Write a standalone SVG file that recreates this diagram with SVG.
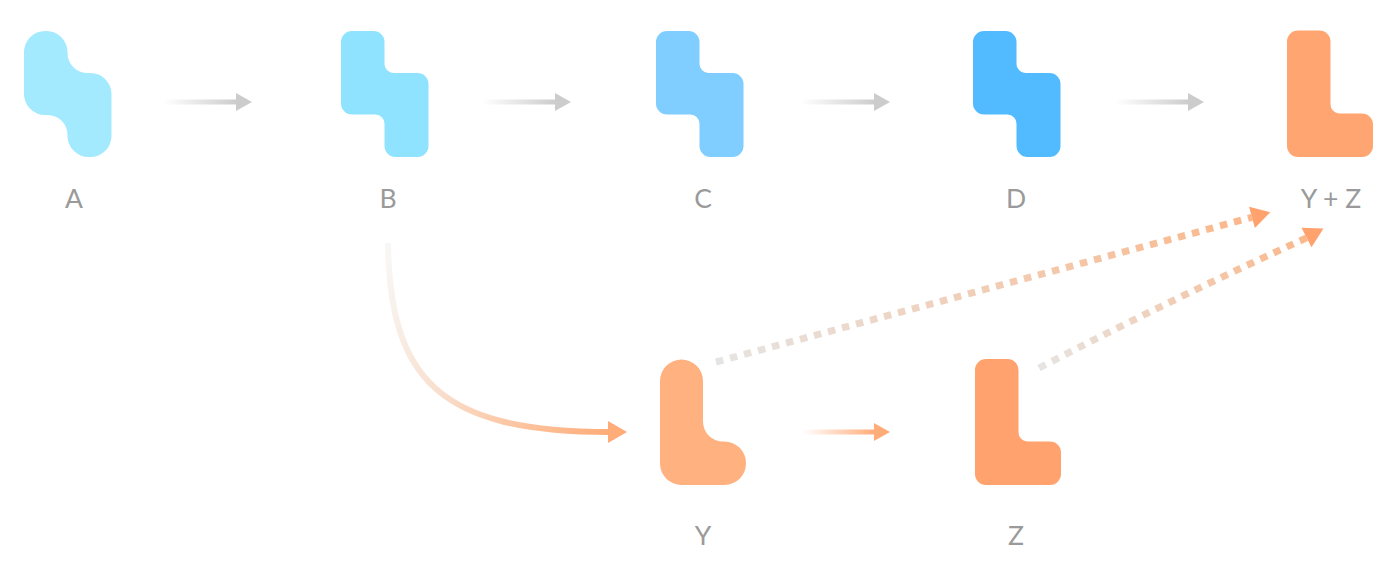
<svg xmlns="http://www.w3.org/2000/svg" width="1400" height="564" viewBox="0 0 1400 564">
<style>
.lbl{font-family:"Lato","Liberation Sans",sans-serif;font-size:26.5px;fill:#9a9a9a;text-anchor:middle}
.gshaft{fill:url(#gGrey)}
.ghead{fill:#cccccc}
.oshaft{fill:url(#gOrange)}
.ohead{fill:#ffac78}
.dhead{fill:#ffa26e}
.dots{fill:none;stroke-width:7;stroke-dasharray:7.5 7}
</style>
<defs>
<linearGradient id="gGrey" x1="0" y1="0" x2="1" y2="0">
<stop offset="0" stop-color="#cccccc" stop-opacity="0"/>
<stop offset="1" stop-color="#cccccc"/>
</linearGradient>
<linearGradient id="gOrange" x1="0" y1="0" x2="1" y2="0">
<stop offset="0" stop-color="#ffac78" stop-opacity="0"/>
<stop offset="1" stop-color="#ffac78"/>
</linearGradient>
<linearGradient id="gCurve" gradientUnits="userSpaceOnUse" x1="388" y1="243" x2="610" y2="432">
<stop offset="0" stop-color="#f4f2f0" stop-opacity="0.6"/>
<stop offset="0.5" stop-color="#f9dcc8"/>
<stop offset="1" stop-color="#ffac78"/>
</linearGradient>
<linearGradient id="gDot1" gradientUnits="userSpaceOnUse" x1="716" y1="362" x2="1253" y2="217">
<stop offset="0" stop-color="#e6e4e2"/>
<stop offset="1" stop-color="#fbb78a"/>
</linearGradient>
<linearGradient id="gDot2" gradientUnits="userSpaceOnUse" x1="1039" y1="368" x2="1307" y2="237">
<stop offset="0" stop-color="#e6e4e2"/>
<stop offset="1" stop-color="#fbb78a"/>
</linearGradient>
</defs>

<g id="connectors">
<rect class="gshaft" x="163" y="99.5" width="74" height="5"/>
<polygon class="ghead" points="236,93 252,102 236,111"/>
<rect class="gshaft" x="482" y="99.5" width="74" height="5"/>
<polygon class="ghead" points="555,93 571,102 555,111"/>
<rect class="gshaft" x="801" y="99.5" width="74" height="5"/>
<polygon class="ghead" points="874,93 890,102 874,111"/>
<rect class="gshaft" x="1115" y="99.5" width="74" height="5"/>
<polygon class="ghead" points="1188,93 1204,102 1188,111"/>
<rect class="oshaft" x="803" y="429.5" width="72" height="5"/>
<polygon class="ohead" points="874,423 890,432 874,441"/>
<path d="M388,243 C390,380 440,432 610,432" fill="none" stroke="url(#gCurve)" stroke-width="6"/>
<polygon class="ohead" points="608,421 627,432 608,443"/>
<path class="dots" stroke="url(#gDot1)" d="M716,362 L1252,217.3"/>
<polygon class="dhead" points="1249.1,206.7 1270.3,212.3 1254.9,227.9"/>
<path class="dots" stroke="url(#gDot2)" d="M1039,368 Q1180,295 1307.5,237.5"/>
<polygon class="dhead" points="1301.5,227.8 1323.5,228.5 1311.5,247.3"/>
</g>

<g id="A">
<path fill="#a3eaff" d="M45,31 H46.5 A21,21 0 0 1 67.5,52 V53 A20,20 0 0 0 87.5,73 H90.5 A21,21 0 0 1 111.5,94 V136 A21,21 0 0 1 90.5,157 H88.5 A21,21 0 0 1 67.5,136 V135 A20,20 0 0 0 47.5,115 H45 A21,21 0 0 1 24,94 V52 A21,21 0 0 1 45,31 Z"/>
<text class="lbl" x="74" y="208">A</text>
</g>
<g id="B">
<path fill="#8fe3ff" d="M352,31 H373.5 A11,11 0 0 1 384.5,42 V64 A9,9 0 0 0 393.5,73 H417.5 A11,11 0 0 1 428.5,84 V146 A11,11 0 0 1 417.5,157 H395.5 A11,11 0 0 1 384.5,146 V123.5 A9,9 0 0 0 375.5,114.5 H352 A11,11 0 0 1 341,103.5 V42 A11,11 0 0 1 352,31 Z"/>
<text class="lbl" x="388" y="208">B</text>
</g>
<g id="C">
<path fill="#80cdff" d="M667,31 H688.5 A11,11 0 0 1 699.5,42 V64 A9,9 0 0 0 708.5,73 H732.5 A11,11 0 0 1 743.5,84 V146 A11,11 0 0 1 732.5,157 H710.5 A11,11 0 0 1 699.5,146 V123.5 A9,9 0 0 0 690.5,114.5 H667 A11,11 0 0 1 656,103.5 V42 A11,11 0 0 1 667,31 Z"/>
<text class="lbl" x="703" y="208">C</text>
</g>
<g id="D">
<path fill="#52bbff" d="M984,31 H1005.5 A11,11 0 0 1 1016.5,42 V64 A9,9 0 0 0 1025.5,73 H1049.5 A11,11 0 0 1 1060.5,84 V146 A11,11 0 0 1 1049.5,157 H1027.5 A11,11 0 0 1 1016.5,146 V123.5 A9,9 0 0 0 1007.5,114.5 H984 A11,11 0 0 1 973,103.5 V42 A11,11 0 0 1 984,31 Z"/>
<text class="lbl" x="1016" y="208">D</text>
</g>
<g id="YZ">
<path fill="#ffa571" d="M1298,30.5 H1319.5 A11,11 0 0 1 1330.5,41.5 V104.5 A9,9 0 0 0 1339.5,113.5 H1362 A11,11 0 0 1 1373,124.5 V146 A11,11 0 0 1 1362,157 H1298 A11,11 0 0 1 1287,146 V41.5 A11,11 0 0 1 1298,30.5 Z"/>
<text class="lbl" x="1331" y="208">Y + Z</text>
</g>
<g id="Y">
<path fill="#ffb27f" d="M681.5,359.5 A21.5,21.5 0 0 1 703,381 V421.5 A20,20 0 0 0 723,441.5 H724.5 A21.5,21.5 0 0 1 746,463 V463.5 A21.5,21.5 0 0 1 724.5,485 H681.5 A21.5,21.5 0 0 1 660,463.5 V381 A21.5,21.5 0 0 1 681.5,359.5 Z"/>
<text class="lbl" x="703" y="545">Y</text>
</g>
<g id="Z">
<path fill="#ffa26e" d="M986,359 H1007.5 A11,11 0 0 1 1018.5,370 V432.5 A9,9 0 0 0 1027.5,441.5 H1050 A11,11 0 0 1 1061,452.5 V474 A11,11 0 0 1 1050,485 H986 A11,11 0 0 1 975,474 V370 A11,11 0 0 1 986,359 Z"/>
<text class="lbl" x="1016" y="545">Z</text>
</g>
</svg>
